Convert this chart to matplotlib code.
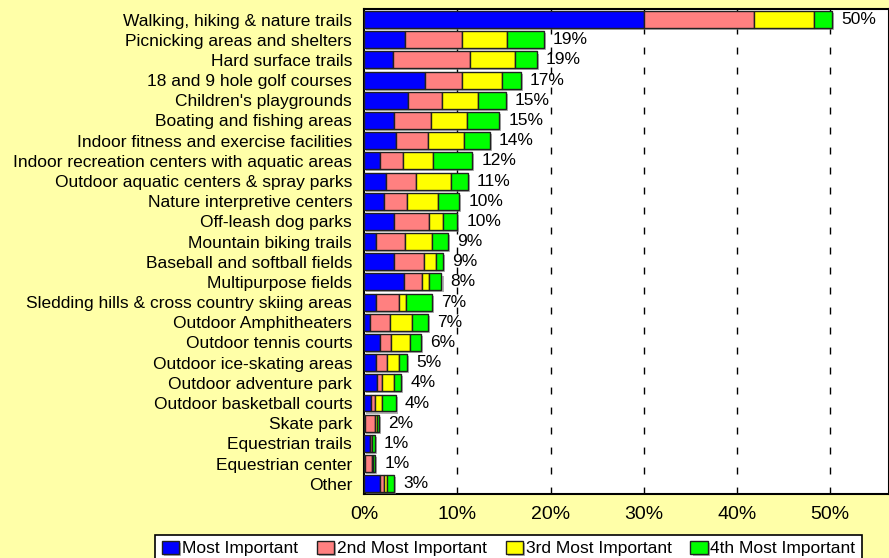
import numpy as np
import matplotlib
matplotlib.use("Agg")
import matplotlib.pyplot as plt
import matplotlib.patheffects as pe

plt.rcParams['font.family'] = ['Liberation Sans', 'DejaVu Sans']

# Facilities, top to bottom
categories = [
    "Walking, hiking & nature trails",
    "Picnicking areas and shelters",
    "Hard surface trails",
    "18 and 9 hole golf courses",
    "Children's playgrounds",
    "Boating and fishing areas",
    "Indoor fitness and exercise facilities",
    "Indoor recreation centers with aquatic areas",
    "Outdoor aquatic centers & spray parks",
    "Nature interpretive centers",
    "Off-leash dog parks",
    "Mountain biking trails",
    "Baseball and softball fields",
    "Multipurpose fields",
    "Sledding hills & cross country skiing areas",
    "Outdoor Amphitheaters",
    "Outdoor tennis courts",
    "Outdoor ice-skating areas",
    "Outdoor adventure park",
    "Outdoor basketball courts",
    "Skate park",
    "Equestrian trails",
    "Equestrian center",
    "Other",
]

most_important = [30.0, 4.4, 3.1, 6.5, 4.7, 3.25, 3.4, 1.7, 2.4, 2.1, 3.25, 1.25,
                  3.25, 4.25, 1.25, 0.6, 1.75, 1.25, 1.4, 0.7, 0.1, 0.6, 0.05, 1.7]
second_important = [11.8, 6.1, 8.3, 4.0, 3.7, 3.95, 3.5, 2.5, 3.2, 2.5, 3.75, 3.15,
                    3.15, 1.95, 2.45, 2.2, 1.15, 1.25, 0.5, 0.5, 1.1, 0.2, 0.85, 0.4]
third_important = [6.5, 4.8, 4.8, 4.3, 3.8, 3.8, 3.8, 3.2, 3.7, 3.3, 1.5, 2.85,
                   1.3, 0.8, 0.8, 2.3, 2.0, 1.3, 1.3, 0.7, 0.2, 0.1, 0.1, 0.35]
fourth_important = [1.9, 4.0, 2.3, 2.0, 3.0, 3.5, 2.8, 4.2, 1.8, 2.3, 1.5, 1.75,
                    0.8, 1.3, 2.8, 1.8, 1.2, 0.8, 0.8, 1.5, 0.2, 0.25, 0.2, 0.75]
total_labels = ["50%", "19%", "19%", "17%", "15%", "15%", "14%", "12%", "11%", "10%",
                "10%", "9%", "9%", "8%", "7%", "7%", "6%", "5%", "4%", "4%", "2%",
                "1%", "1%", "3%"]

series = [most_important, second_important, third_important, fourth_important]
series_names = ["Most Important", "2nd Most Important", "3rd Most Important", "4th Most Important"]
colors = ["#0000FF", "#FF8080", "#FFFF00", "#00FF00"]
xticks = [0, 10, 20, 30, 40, 50]

bg = "#FFFFA8"
fig = plt.figure(figsize=(8.89, 5.58), dpi=100, facecolor=bg)
ax = fig.add_axes([0.4095, 0.115, 0.5905, 0.868])
ax.set_facecolor("white")

y = np.arange(len(categories))
left = np.zeros(len(categories))
shadow = [pe.SimplePatchShadow(offset=(1.5, -1.5), shadow_rgbFace="#808080", alpha=0.6), pe.Normal()]
for vals, name, col in zip(series, series_names, colors):
    vals = np.array(vals)
    bars = ax.barh(y, vals, left=left, height=0.84, color=col, edgecolor="#202020",
                   linewidth=1, label=name, zorder=3)
    for b in bars:
        b.set_path_effects(shadow)
    left += vals

for yi, tot, lab in zip(y, left, total_labels):
    ax.annotate(lab, (tot, yi), xytext=(6.5, 0), textcoords="offset points",
                ha="left", va="center", fontsize=12.5, zorder=4)

for xt in xticks[1:]:
    ax.axvline(xt, color="black", linewidth=1, linestyle=(0, (5, 9.4)), zorder=1)

ax.set_xlim(0, 56.3)
ax.set_ylim(len(categories) - 0.5, -0.5)
ax.set_yticks(y)
ax.set_yticklabels(categories, fontsize=12.5)
ax.set_xticks(xticks)
ax.set_xticklabels([f"{t}%" for t in xticks], fontsize=14)
ax.tick_params(axis="both", length=0)
ax.tick_params(axis="y", pad=8.5)
ax.tick_params(axis="x", pad=9)
for s in ax.spines.values():
    s.set_linewidth(1.5)
    s.set_color("black")

leg = ax.legend(loc="upper center", bbox_to_anchor=(0.572, 1 - 535 / 558),
                bbox_transform=fig.transFigure, ncol=4, fontsize=12.5, frameon=True,
                fancybox=False, edgecolor="black", framealpha=1, handlelength=1.0,
                handleheight=0.75, handletextpad=0.15, columnspacing=1.1,
                borderpad=0.35, borderaxespad=0)
leg.get_frame().set_linewidth(1.2)

fig.savefig("out.png", dpi=100, facecolor=bg)
